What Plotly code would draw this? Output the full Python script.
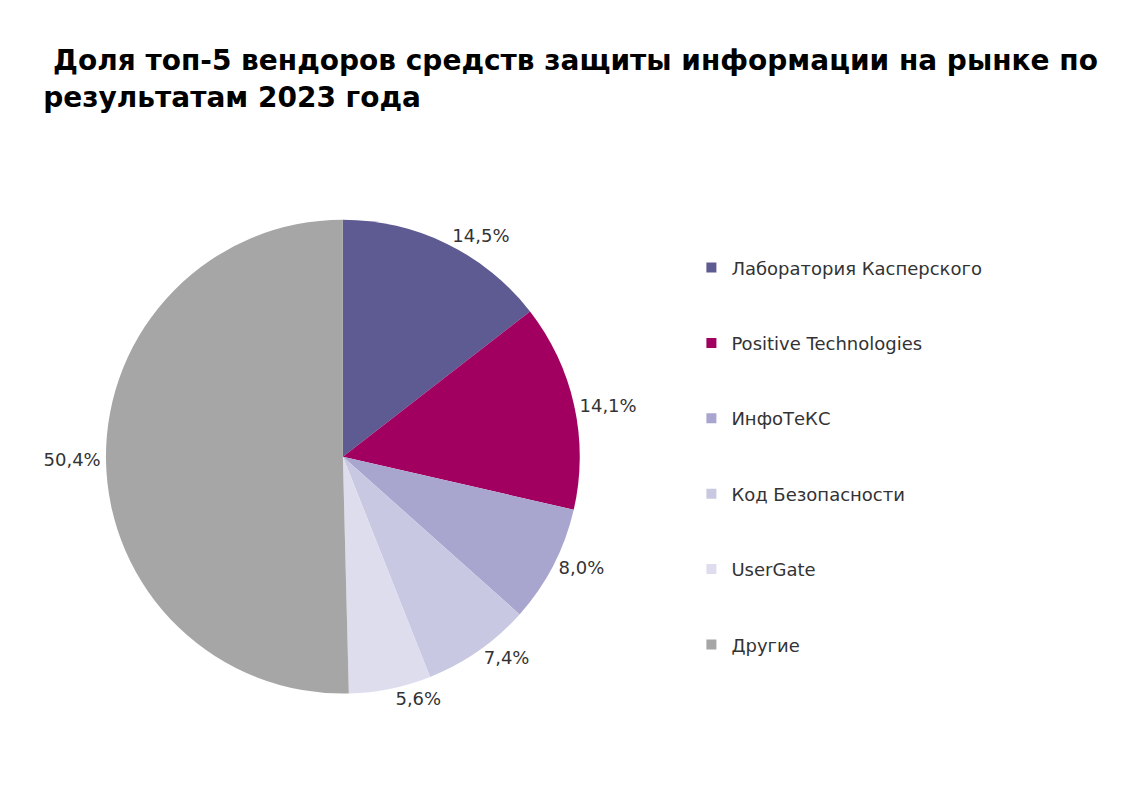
import plotly.graph_objects as go

labels = ["Лаборатория Касперского", "Positive Technologies", "ИнфоТеКС", "Код Безопасности", "UserGate", "Другие"]
values = [14.5, 14.1, 8.0, 7.4, 5.6, 50.4]
colors = ["#5E5A92", "#A10060", "#A8A6CF", "#C9C8E2", "#DEDDEE", "#A6A6A6"]
texts = [f"{v:.1f}%".replace(".", ",") for v in values]

fig = go.Figure()
fig.add_trace(go.Pie(labels=labels, values=values, text=texts, textinfo="text",
                     textposition="outside", sort=False, direction="clockwise", rotation=0,
                     marker=dict(colors=colors), showlegend=False,
                     textfont=dict(size=18, color="#333333", family="DejaVu Sans"),
                     domain=dict(x=[0.086, 0.502], y=[0.142, 0.735])))
for l, c in zip(labels, colors):
    fig.add_trace(go.Scatter(x=[None], y=[None], mode="markers", name=l,
                             legendgroup=l,
                             marker=dict(symbol="square", size=10, color=c)))
fig.update_layout(
    width=1139, height=799, paper_bgcolor="white", plot_bgcolor="white",
    margin=dict(l=0, r=0, t=0, b=0),
    xaxis=dict(visible=False), yaxis=dict(visible=False),
    title=dict(text="<b> Доля топ-5 вендоров средств защиты информации на рынке по<br>результатам 2023 года</b>",
               x=0.031, xanchor="left", y=0.922, yanchor="top",
               font=dict(size=28, color="black", family="DejaVu Sans")),
    legend=dict(x=0.6, y=0.698, xanchor="left", yanchor="top", tracegroupgap=49,
                font=dict(size=18, color="#333333", family="DejaVu Sans"),
                itemwidth=30),
)
fig.write_html("out.html")
